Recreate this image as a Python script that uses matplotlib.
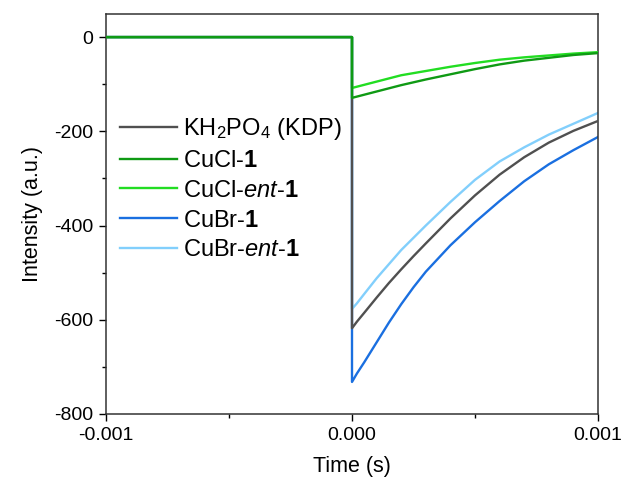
import matplotlib
matplotlib.use("Agg")
import matplotlib.pyplot as plt
from matplotlib.ticker import MultipleLocator

plt.rcParams['font.family'] = ['Liberation Sans', 'DejaVu Sans']
plt.rcParams['mathtext.fontset'] = 'custom'
plt.rcParams['mathtext.rm'] = 'Liberation Sans'
plt.rcParams['mathtext.it'] = 'Liberation Sans:italic'
plt.rcParams['mathtext.bf'] = 'Liberation Sans:bold'
plt.rcParams['axes.unicode_minus'] = False

# ---- data ----
t_pre = [-0.001, 0.0]
y_pre = [0, 0]

t_decay = [0.0, 0.00002, 0.00005, 0.0001, 0.00015, 0.0002, 0.00025, 0.0003,
           0.0004, 0.0005, 0.0006, 0.0007, 0.0008, 0.0009, 0.001]
kdp = [-618, -604, -585, -553, -522, -493, -465, -438,
       -385, -336, -292, -255, -224, -199, -178]
cubr_ent = [-577, -565, -545, -512, -482, -452, -426, -400,
            -350, -303, -264, -234, -207, -184, -161]
cubr = [-732, -714, -690, -648, -606, -567, -531, -498,
        -442, -393, -348, -306, -270, -240, -212]

t_green = [0.0, 0.0002, 0.0003, 0.0004, 0.0005, 0.0006, 0.0007, 0.0008, 0.0009, 0.001]
cucl = [-129, -102, -90, -79, -68, -58, -50, -44, -38, -34]
cucl_ent = [-108, -81, -72, -63, -55, -48, -43, -39, -35, -32]

labels = [r'KH$_2$PO$_4$ (KDP)', r'CuCl-$\mathbf{1}$', r'CuCl-$\mathit{ent}$-$\mathbf{1}$',
          r'CuBr-$\mathbf{1}$', r'CuBr-$\mathit{ent}$-$\mathbf{1}$']
colors = ['#505050', '#0f9a14', '#22dd22', '#1a6fe0', '#82cffc']

series = [(t_decay, kdp), (t_green, cucl), (t_green, cucl_ent), (t_decay, cubr), (t_decay, cubr_ent)]
zorders = [3, 5, 4, 1, 2]

fig = plt.figure(figsize=(6.25, 4.84), dpi=100)
ax = fig.add_axes([106/625, 1-414/484, 492/625, 400/484])

handles = []
for (t, y), c, lab, z in zip(series, colors, labels, zorders):
    tt = list(t_pre) + list(t)
    yy = list(y_pre) + list(y)
    h, = ax.plot(tt, yy, color=c, lw=1.7, label=lab, zorder=z)
    handles.append(h)

ax.set_xlim(-0.001, 0.001)
ax.set_ylim(-800, 49)
ax.xaxis.set_minor_locator(MultipleLocator(0.0005))
ax.yaxis.set_major_locator(MultipleLocator(200))
ax.yaxis.set_minor_locator(MultipleLocator(100))
ax.set_xticks([-0.001, 0.0, 0.001])
ax.set_xticklabels(['-0.001', '0.000', '0.001'])
ax.tick_params(which='major', direction='out', length=5, width=1, labelsize=14, pad=4)
ax.tick_params(which='minor', direction='out', length=3, width=1)
for s in ax.spines.values():
    s.set_linewidth(1.1)
    s.set_color('#333333')
ax.set_xlabel('Time (s)', fontsize=15.5, labelpad=9)
ax.set_ylabel('Intensity (a.u.)', fontsize=15.5, labelpad=8)

leg = ax.legend(handles=handles, loc='upper left', bbox_to_anchor=(-0.005, 0.786),
                frameon=False, fontsize=17, handlelength=2.4, handletextpad=0.25,
                labelspacing=0.33, borderaxespad=0.3)

fig.savefig('out.png', dpi=100)
